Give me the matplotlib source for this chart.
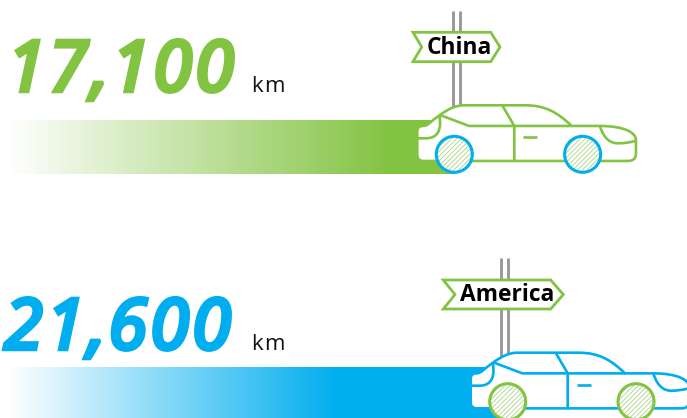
import numpy as np
import matplotlib
matplotlib.use("Agg")
import matplotlib.pyplot as plt
import matplotlib.patheffects as pe
from matplotlib.patches import Circle, PathPatch, Polygon
from matplotlib.path import Path
from matplotlib.colors import LinearSegmentedColormap

plt.rcParams['font.family'] = ['Open Sans', 'DejaVu Sans']
plt.rcParams['hatch.linewidth'] = 0.6

regions = ['China', 'America']
distances = [17100, 21600]
distance_labels = ['17,100', '21,600']
unit = 'km'

green = '#82c341'
blue = '#00aeef'
grey = '#97999c'

# pixel position of the bar end for a given distance
km_scale = [(17100, 454.3), (21600, 507.7)]


def km_to_x(km):
    (k0, x0), (k1, x1) = km_scale
    return x0 + (km - k0) * (x1 - x0) / (k1 - k0)


fig = plt.figure(figsize=(6.87, 4.18), dpi=100)
ax = fig.add_axes([0, 0, 1, 1])
ax.set_xlim(0, 687)
ax.set_ylim(418, 0)
ax.axis('off')

# car drawn around the rear wheel centre, units are 1/3 pixel
M, L, C3, C2 = Path.MOVETO, Path.LINETO, Path.CURVE4, Path.CURVE3
body = [
    (M, (-53, 20)), (L, (-93, 20)), (C2, (-111, 20)), (C2, (-111, 2)),
    (L, (-111, -68)), (C2, (-111, -85)), (C2, (-95, -85)),
    (C3, (-78, -85)), (C3, (-70, -100)), (C3, (-43, -118)),
    (C3, (-15, -138)), (C3, (5, -147)), (C3, (30, -147)),
    (L, (212, -147)), (C3, (275, -147)), (C3, (310, -125)), (C3, (352, -85)),
    (L, (437, -85)), (C3, (510, -85)), (C3, (545, -65)), (C3, (545, -43)),
    (L, (545, -3)), (C2, (545, 20)), (C2, (522, 20)),
    (L, (-53, 20)),
]
extra_lines = [
    [(M, (-45, -118)), (C3, (-38, -80)), (C3, (-45, -48)), (C3, (-85, -48)), (L, (-111, -48))],
    [(M, (-43, -118)), (L, (44, -85)), (L, (352, -85))],
    [(M, (145, -145)), (L, (180, -85)), (L, (180, 20))],
    [(M, (207, -51)), (L, (249, -51))],
    [(M, (437, -85)), (C3, (450, -40)), (C3, (475, -33)), (C3, (490, -33)),
     (C3, (510, -33)), (C3, (530, -36)), (C3, (545, -41))],
]
front_wheel_gap = 385


def car_path(segments, cx, cy):
    codes = [c for c, _ in segments]
    verts = [(cx + p[0] / 3, cy + p[1] / 3) for _, p in segments]
    return Path(verts, codes)


def spaced_number(x, y, label, color, size=50.5, tracking=1.8):
    # heavy italic figure, set one glyph at a time for the wider spacing
    em = size * 100 / 72
    for ch in label:
        ax.text(x, y, ch, fontsize=size, style='italic', color=color,
                family=['Noto Sans', 'DejaVu Sans'], ha='left', va='baseline', zorder=9,
                path_effects=[pe.withStroke(linewidth=3.2, foreground=color, joinstyle='miter')])
        x += (0.268 if ch == ',' else 0.572) * em + tracking


def draw_row(region, km, label, bar_top, bar_bottom, color, other, wheel_y,
             text_x, text_y, unit_x, post_top, post_xs, sign, full_at):
    bar_end = km_to_x(km)

    # fading bar
    cmap = LinearSegmentedColormap.from_list('fade', [(0, 'white'), (full_at, color), (1, color)])
    grad = np.linspace(0, 1, 512)[None, :]
    ax.imshow(grad, cmap=cmap, extent=(8, bar_end, bar_bottom, bar_top), aspect='auto', zorder=1)

    # posts behind the car
    for px in post_xs:
        ax.plot([px, px], [post_top, wheel_y - 40], color=grey, lw=2.1, zorder=2, solid_capstyle='butt')

    # sign board
    sx0, sx1, sx2, sy0, sy1, notch = sign
    ym = (sy0 + sy1) / 2
    ax.add_patch(Polygon([(sx0, sy0), (sx1, sy0), (sx2, ym), (sx1, sy1), (sx0, sy1), (notch, ym)],
                         closed=True, fc='white', ec=green, lw=2.0, zorder=3, joinstyle='miter'))
    ax.text((notch + sx2) / 2 - 1.5, ym + 0.5, region, fontsize=16.4, fontweight='bold', color='black',
            ha='center', va='center', zorder=4)

    # car
    ax.add_patch(PathPatch(car_path(body, bar_end, wheel_y), fc='white', ec=color, lw=1.9, zorder=5,
                           joinstyle='round', clip_on=True))
    for seg in extra_lines:
        ax.add_patch(PathPatch(car_path(seg, bar_end, wheel_y), fc='none', ec=color, lw=1.9, zorder=6))
    for wx in (bar_end, bar_end + front_wheel_gap / 3):
        ax.add_patch(Circle((wx, wheel_y), 18, fc='white', ec='#a9d585', hatch='///////', lw=0, zorder=7))
        ax.add_patch(Circle((wx, wheel_y), 18, fc='none', ec=other, lw=2.2, zorder=8))

    # distance figure and unit
    spaced_number(text_x, text_y, label, color)
    ax.text(unit_x, text_y + 1, unit[0], fontsize=16, color='#111111', ha='left', va='baseline', zorder=9)
    ax.text(unit_x + 13, text_y + 1, unit[1], fontsize=16, color='#111111', ha='left', va='baseline', zorder=9)


draw_row(regions[0], distances[0], distance_labels[0], 120, 174, green, blue, 154.3,
         7, 91, 251, 11, (452.7, 459.7), (413, 490.7, 500, 32.3, 61.7, 421.7), 0.86)
draw_row(regions[1], distances[1], distance_labels[1], 367, 418, blue, green, 401.7,
         4, 349, 251, 258, (501, 508.3), (443.3, 550.7, 563.3, 280, 309, 455), 0.66)

ax.set_xlim(0, 687)
ax.set_ylim(418, 0)

fig.savefig('out.png', dpi=100)
